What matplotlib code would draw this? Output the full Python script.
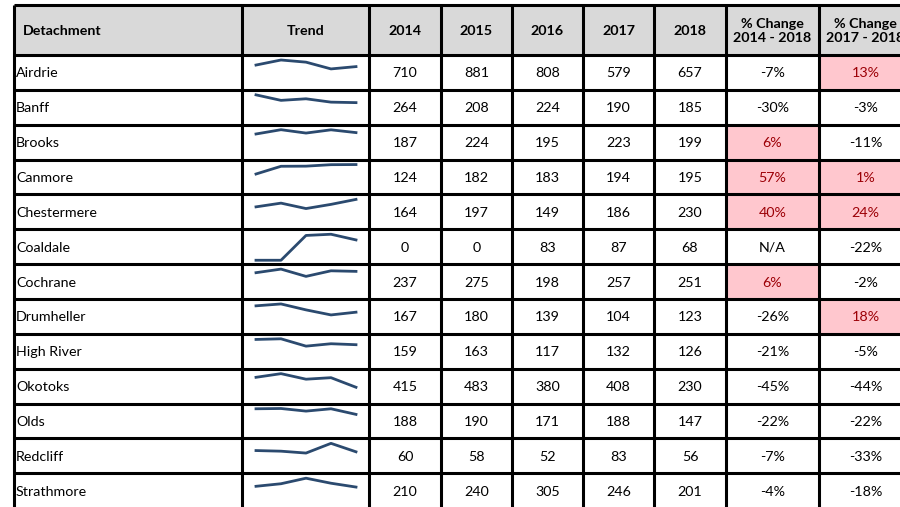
import matplotlib.pyplot as plt
from matplotlib.patches import Rectangle

# table data
detachments = ['Airdrie', 'Banff', 'Brooks', 'Canmore', 'Chestermere', 'Coaldale',
               'Cochrane', 'Drumheller', 'High River', 'Okotoks', 'Olds', 'Redcliff',
               'Strathmore']
years = ['2014', '2015', '2016', '2017', '2018']
counts = [
    [710, 881, 808, 579, 657],
    [264, 208, 224, 190, 185],
    [187, 224, 195, 223, 199],
    [124, 182, 183, 194, 195],
    [164, 197, 149, 186, 230],
    [0, 0, 83, 87, 68],
    [237, 275, 198, 257, 251],
    [167, 180, 139, 104, 123],
    [159, 163, 117, 132, 126],
    [415, 483, 380, 408, 230],
    [188, 190, 171, 188, 147],
    [60, 58, 52, 83, 56],
    [210, 240, 305, 246, 201],
]
chg_14_18 = ['-7%', '-30%', '6%', '57%', '40%', 'N/A', '6%', '-26%', '-21%', '-45%', '-22%', '-7%', '-4%']
chg_17_18 = ['13%', '-3%', '-11%', '1%', '24%', '-22%', '-2%', '18%', '-5%', '-44%', '-22%', '-33%', '-18%']

headers = ['Detachment', 'Trend'] + years + ['% Change\n2014 - 2018', '% Change\n2017 - 2018']

# layout (pixels)
W, H = 900, 507
col_edges = [14, 242, 369, 441, 512, 583, 654, 726, 819, 912]
top, head_bot, row_h = 5, 55, 34.85

plt.rcParams['font.family'] = ['Lato', 'DejaVu Sans']
fs = 10.3
spark_color = '#2B4A6F'
pink, dark_red = '#FFC7CE', '#9C0006'

fig = plt.figure(figsize=(9, 5.07), dpi=100)
ax = fig.add_axes([0, 0, 1, 1])
ax.set_xlim(0, W)
ax.set_ylim(H, 0)
ax.axis('off')

# header
ax.add_patch(Rectangle((col_edges[0], top), col_edges[-1] - col_edges[0], head_bot - top,
                       facecolor='#D9D9D9', edgecolor='none'))
for j, h in enumerate(headers):
    yc = (top + head_bot) / 2 + 1
    if j == 0:
        ax.text(col_edges[0] + 9, yc, h, ha='left', va='center', fontsize=fs, fontweight='bold')
    else:
        xc = (col_edges[j] + col_edges[j + 1]) / 2
        ax.text(xc, yc, h, ha='center', va='center', fontsize=fs, fontweight='bold',
                linespacing=1.2)

# rows
for i, name in enumerate(detachments):
    y0 = head_bot + i * row_h
    yc = y0 + row_h / 2 + 1
    ax.text(col_edges[0] + 2, yc, name, ha='left', va='center', fontsize=fs)
    for k, v in enumerate(counts[i]):
        xc = (col_edges[k + 2] + col_edges[k + 3]) / 2
        ax.text(xc, yc, str(v), ha='center', va='center', fontsize=fs)
    for k, s in enumerate([chg_14_18[i], chg_17_18[i]]):
        c0, c1 = col_edges[7 + k], col_edges[8 + k]
        positive = s != 'N/A' and not s.startswith('-')
        if positive:
            ax.add_patch(Rectangle((c0, y0), c1 - c0, row_h, facecolor=pink, edgecolor='none'))
        ax.text((c0 + c1) / 2, yc, s, ha='center', va='center', fontsize=fs,
                color=dark_red if positive else 'black')

    # sparkline: axis from 0 to row max
    sx0, sx1 = col_edges[1] + 14, col_edges[2] - 13
    sy_top, sy_bot = y0 + 5, y0 + 31
    sax = fig.add_axes([sx0 / W, 1 - sy_bot / H, (sx1 - sx0) / W, (sy_bot - sy_top) / H])
    sax.plot(range(len(years)), counts[i], color=spark_color, lw=2.0, clip_on=False)
    sax.set_xlim(0, len(years) - 1)
    sax.set_ylim(0, max(counts[i]))
    sax.axis('off')

# grid lines
n = len(detachments)
bottom = head_bot + n * row_h
lw = 2.2
for x in col_edges:
    ax.vlines(x, top, bottom, color='black', lw=lw)
ax.hlines(top, col_edges[0], col_edges[-1], color='black', lw=lw)
for i in range(n + 1):
    ax.hlines(head_bot + i * row_h, col_edges[0], col_edges[-1], color='black', lw=lw)

fig.savefig('out.png', dpi=100)
